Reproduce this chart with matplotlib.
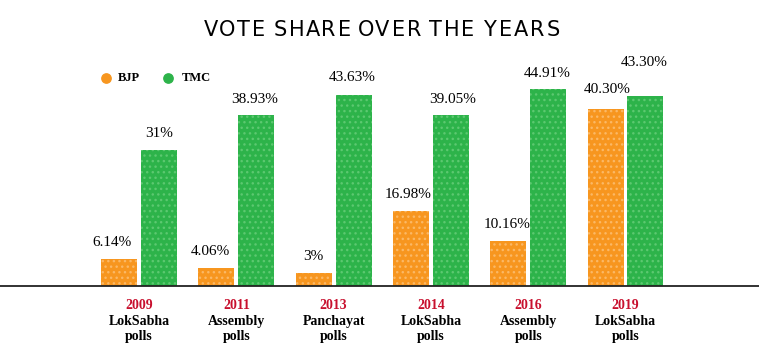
import numpy as np
import matplotlib.pyplot as plt

# Data
years = ['2009', '2011', '2013', '2014', '2016', '2019']
polls = ['LokSabha\npolls', 'Assembly\npolls', 'Panchayat\npolls',
         'LokSabha\npolls', 'Assembly\npolls', 'LokSabha\npolls']
bjp = [6.14, 4.06, 3.0, 16.98, 10.16, 40.30]
tmc = [31.0, 38.93, 43.63, 39.05, 44.91, 43.30]
bjp_labels = ['6.14%', '4.06%', '3%', '16.98%', '10.16%', '40.30%']
tmc_labels = ['31%', '38.93%', '43.63%', '39.05%', '44.91%', '43.30%']

orange = '#f7961f'
green = '#2db34a'
serif = ['Liberation Serif', 'DejaVu Serif']

fig = plt.figure(figsize=(7.59, 3.57), dpi=100)
ax = fig.add_axes([0, 0.199, 1, 0.633])

x = np.arange(len(years))
w = 0.37
gap = 0.02
ax.bar(x - w / 2 - gap, bjp, w, color=orange, hatch='...', edgecolor='#fbb865', linewidth=0)
ax.bar(x + w / 2 + gap, tmc, w, color=green, hatch='...', edgecolor='#5cc870', linewidth=0)

ax.set_xlim(-1.429, 6.372)
ax.set_ylim(0, 51.5)
for s in ['top', 'right', 'left']:
    ax.spines[s].set_visible(False)
ax.spines['bottom'].set_linewidth(1.3)
ax.spines['bottom'].set_color('#222222')
ax.set_yticks([])
ax.set_xticks([])

# value labels
bjp_off = [(-5, 12), (-4, 12), (0, 12), (-2, 12), (-1, 12), (1, 14)]
tmc_off = [(0, 12), (-1, 11), (-1, 12), (1, 11), (-1, 11), (-1, 24)]
for i in range(len(years)):
    ax.annotate(bjp_labels[i], (x[i] - w / 2 - gap, bjp[i]), xytext=bjp_off[i],
                textcoords='offset points', ha='center', va='center',
                fontsize=11, family=serif)
    ax.annotate(tmc_labels[i], (x[i] + w / 2 + gap, tmc[i]), xytext=tmc_off[i],
                textcoords='offset points', ha='center', va='center',
                fontsize=11, family=serif)

# x labels
for i in range(len(years)):
    ax.text(x[i], -3.0, years[i], ha='center', va='top', fontsize=10,
            fontweight='bold', color='#c8102e', family=serif)
    ax.text(x[i], -6.6, polls[i], ha='center', va='top', fontsize=10,
            fontweight='bold', color='black', family=serif, linespacing=1.2)

# title, letters spread out one by one
title = 'VOTE SHARE OVER THE YEARS'
pitch = 16.0 / 759
word_gap = 21.6 / 759
pos = 211 / 759
for ch in title:
    if ch == ' ':
        pos += word_gap - pitch
        continue
    fig.text(pos, 0.916, ch, ha='center', va='center', fontsize=15, family='DejaVu Sans')
    pos += pitch

# legend
ax.scatter([-0.340], [47.4], s=45, color=orange, clip_on=False)
ax.text(-0.216, 47.4, 'BJP', va='center', fontsize=9, fontweight='bold', family=serif)
ax.scatter([0.298], [47.4], s=45, color=green, clip_on=False)
ax.text(0.442, 47.4, 'TMC', va='center', fontsize=9, fontweight='bold', family=serif)

plt.savefig('out.png', dpi=100)
